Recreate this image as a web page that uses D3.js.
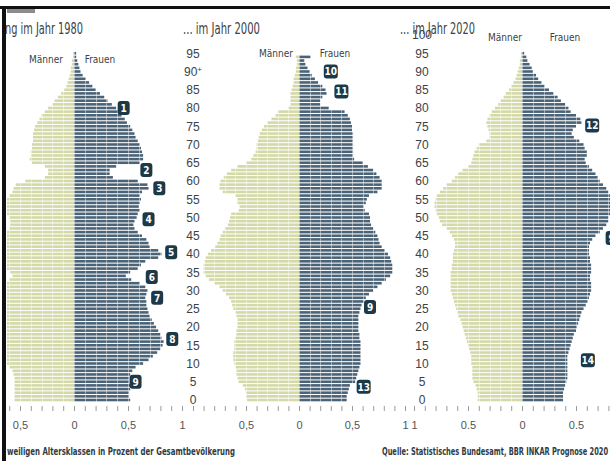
<!DOCTYPE html>
<html>
<head>
<meta charset="utf-8">
<script src="https://cdnjs.cloudflare.com/ajax/libs/d3/7.8.5/d3.min.js"></script>
<style>
  body { margin: 0; background: #fff; }
  svg { display: block; font-family: "Liberation Sans Narrow", "DejaVu Sans Condensed", "Roboto", sans-serif; }
</style>
</head>
<body>
<div id="chart"></div>
<script>
// share of each single-year age class in % of the total population, ages 0..95
var men1980 = [
  0.55,0.55,0.55,0.55,0.55,0.55,0.55,0.56,0.57,0.60,
  0.67,0.72,0.76,0.80,0.83,0.86,0.87,0.85,0.84,0.82,
  0.80,0.78,0.76,0.74,0.73,0.72,0.71,0.70,0.70,0.70,
  0.71,0.69,0.64,0.60,0.57,0.59,0.63,0.66,0.70,0.82,
  0.85,0.82,0.74,0.72,0.70,0.66,0.62,0.60,0.59,0.59,
  0.60,0.62,0.64,0.63,0.63,0.62,0.60,0.57,0.56,0.54,
  0.45,0.27,0.24,0.24,0.27,0.39,0.41,0.40,0.40,0.39,
  0.39,0.38,0.38,0.38,0.37,0.36,0.34,0.32,0.30,0.27,
  0.24,0.20,0.18,0.15,0.12,0.09,0.07,0.06,0.05,0.04,
  0.03,0.03,0.02,0.02,0.01,0.01];
var women1980 = [
  0.52,0.51,0.51,0.52,0.52,0.51,0.51,0.52,0.54,0.57,
  0.64,0.69,0.73,0.77,0.80,0.82,0.83,0.81,0.80,0.78,
  0.76,0.74,0.72,0.70,0.69,0.68,0.67,0.67,0.66,0.67,
  0.68,0.66,0.61,0.53,0.48,0.52,0.59,0.62,0.66,0.78,
  0.81,0.78,0.70,0.69,0.67,0.63,0.59,0.56,0.55,0.56,
  0.58,0.59,0.61,0.60,0.61,0.62,0.61,0.63,0.69,0.68,
  0.59,0.36,0.33,0.33,0.39,0.61,0.64,0.64,0.63,0.62,
  0.61,0.59,0.57,0.56,0.54,0.52,0.49,0.47,0.44,0.42,
  0.39,0.35,0.31,0.28,0.24,0.20,0.17,0.14,0.11,0.08,
  0.06,0.05,0.04,0.03,0.02,0.02];
var men2000 = [
  0.49,0.50,0.50,0.51,0.53,0.57,0.58,0.59,0.59,0.60,
  0.61,0.62,0.62,0.62,0.61,0.61,0.61,0.60,0.59,0.59,
  0.58,0.58,0.58,0.59,0.60,0.62,0.63,0.64,0.66,0.69,
  0.72,0.75,0.80,0.85,0.88,0.90,0.90,0.90,0.89,0.88,
  0.86,0.83,0.79,0.77,0.75,0.74,0.72,0.70,0.67,0.66,
  0.65,0.64,0.57,0.56,0.58,0.58,0.60,0.72,0.75,0.75,
  0.74,0.71,0.68,0.64,0.58,0.50,0.45,0.43,0.41,0.40,
  0.40,0.39,0.38,0.37,0.35,0.33,0.30,0.26,0.22,0.20,
  0.10,0.08,0.08,0.08,0.08,0.07,0.06,0.05,0.05,0.04,
  0.03,0.03,0.02,0.02,0.03,0.00];
var women2000 = [
  0.45,0.45,0.46,0.47,0.48,0.53,0.54,0.55,0.56,0.57,
  0.58,0.58,0.58,0.58,0.58,0.58,0.58,0.57,0.57,0.56,
  0.56,0.56,0.56,0.56,0.57,0.58,0.59,0.61,0.63,0.66,
  0.70,0.74,0.78,0.82,0.86,0.88,0.88,0.88,0.87,0.86,
  0.84,0.81,0.78,0.76,0.75,0.74,0.72,0.70,0.68,0.67,
  0.67,0.66,0.62,0.61,0.63,0.64,0.66,0.74,0.78,0.78,
  0.78,0.76,0.73,0.70,0.65,0.60,0.52,0.51,0.51,0.51,
  0.51,0.51,0.51,0.51,0.50,0.50,0.49,0.48,0.46,0.43,
  0.28,0.20,0.20,0.22,0.26,0.25,0.22,0.18,0.15,0.12,
  0.10,0.08,0.06,0.05,0.11,0.00];
var men2020 = [
  0.41,0.41,0.41,0.42,0.43,0.45,0.46,0.46,0.46,0.46,
  0.47,0.47,0.47,0.48,0.49,0.50,0.51,0.52,0.53,0.54,
  0.55,0.56,0.57,0.59,0.60,0.61,0.62,0.63,0.64,0.65,
  0.66,0.66,0.66,0.66,0.66,0.66,0.65,0.65,0.64,0.64,
  0.64,0.63,0.62,0.62,0.63,0.65,0.67,0.70,0.74,0.76,
  0.77,0.79,0.80,0.81,0.81,0.80,0.79,0.76,0.73,0.70,
  0.65,0.62,0.59,0.55,0.50,0.47,0.46,0.45,0.44,0.42,
  0.40,0.33,0.30,0.30,0.31,0.32,0.33,0.32,0.30,0.28,
  0.25,0.22,0.20,0.17,0.15,0.12,0.10,0.08,0.06,0.05,
  0.04,0.03,0.02,0.02,0.01,0.01];
var women2020 = [
  0.38,0.38,0.38,0.39,0.40,0.41,0.42,0.42,0.42,0.42,
  0.42,0.42,0.42,0.43,0.44,0.45,0.46,0.47,0.48,0.50,
  0.51,0.52,0.53,0.54,0.55,0.57,0.59,0.61,0.62,0.63,
  0.64,0.64,0.64,0.63,0.63,0.64,0.64,0.64,0.63,0.63,
  0.62,0.62,0.62,0.63,0.65,0.68,0.72,0.75,0.78,0.80,
  0.80,0.82,0.83,0.84,0.84,0.84,0.82,0.80,0.78,0.75,
  0.72,0.70,0.68,0.65,0.62,0.59,0.58,0.60,0.60,0.58,
  0.57,0.53,0.48,0.46,0.47,0.50,0.55,0.54,0.50,0.45,
  0.43,0.40,0.36,0.33,0.29,0.25,0.21,0.18,0.15,0.13,
  0.10,0.09,0.07,0.05,0.04,0.02];

var titles = ["ng im Jahr 1980", "... im Jahr 2000", "... im Jahr 2020"];
var ageTicks1 = d3.range(0, 100, 5);
var ageTicks2 = d3.range(0, 105, 5);
var valueLabels = [[-0.5, 0, 0.5, 1], [-0.5, 0, 0.5, 1], [-1, -0.5, 0, 0.5]];
var valueText = [["0,5", "0", "0,5", "1"], ["0,5", "0", "0,5", "1"], ["1", "0.5", "0", "0.5"]];
// numbered markers: [label, age, value]
var notes1980 = [["1", 80, 0.46], ["2", 63, 0.67], ["3", 58, 0.79], ["4", 49.5, 0.69], ["5", 40.5, 0.9],
                 ["6", 33.7, 0.72], ["7", 28, 0.77], ["8", 16.7, 0.91], ["9", 5, 0.57]];
var notes2000 = [["10", 90, 0.3], ["11", 84.5, 0.4], ["9", 25.5, 0.67], ["13", 3.6, 0.61]];
var notes2020 = [["12", 75.2, 0.65], ["9", 44.4, 0.83], ["14", 10.9, 0.61]];

var manColor = "#d4d9a8", womanColor = "#4b6377", noteColor = "#1d3846", textColor = "#3b4247";

var width = 610, height = 461;
var svg = d3.select("#chart").append("svg")
  .attr("width", width)
  .attr("height", height);

// age scale shared by all three pyramids
var y = d3.scaleLinear().domain([0, 100]).range([400, 35]);
var barH = 2.6;

var panels = [
  {men: men1980, women: women1980, notes: notes1980, center: 74, unit: 108, clip: [7, 190], ticks: [-0.6, 1.0],
   title: [5, 34, 78], labels: [46, 100, 63]},
  {men: men2000, women: women2000, notes: notes2000, center: 299, unit: 106, clip: [190, 410], ticks: [-1.0, 1.0],
   title: [183, 34, 77], labels: [276, 335, 57]},
  {men: men2020, women: women2020, notes: notes2020, center: 522, unit: 108, clip: [410, 610], ticks: [-1.0, 0.8],
   title: [400, 34, 75], labels: [505, 565, 41]}
];

var defs = svg.append("defs");

panels.forEach(function(p, i) {
  var x = d3.scaleLinear().domain([-1, 1]).range([p.center - p.unit, p.center + p.unit]);

  defs.append("clipPath").attr("id", "clip" + i)
    .append("rect")
    .attr("x", p.clip[0]).attr("y", 0)
    .attr("width", p.clip[1] - p.clip[0]).attr("height", height);

  var g = svg.append("g").attr("clip-path", "url(#clip" + i + ")");

  g.selectAll("rect.man")
    .data(p.men)
    .enter().append("rect")
    .attr("class", "man")
    .attr("x", function(d) { return x(-d); })
    .attr("y", function(d, a) { return y(a) - barH / 2; })
    .attr("width", function(d) { return x(0) - x(-d); })
    .attr("height", barH)
    .attr("fill", manColor);

  g.selectAll("rect.woman")
    .data(p.women)
    .enter().append("rect")
    .attr("class", "woman")
    .attr("x", x(0))
    .attr("y", function(d, a) { return y(a) - barH / 2; })
    .attr("width", function(d) { return x(d) - x(0); })
    .attr("height", barH)
    .attr("fill", womanColor);

  // faint white grid every 0.1 across the bars
  g.selectAll("line.grid")
    .data(d3.range(-10, 11).map(function(k) { return k / 10; }))
    .enter().append("line")
    .attr("x1", function(d) { return Math.round(x(d)) + 0.5; })
    .attr("x2", function(d) { return Math.round(x(d)) + 0.5; })
    .attr("y1", y(96)).attr("y2", y(0) + 3)
    .attr("stroke", "#fff")
    .attr("stroke-opacity", 0.45);

  // small ticks under each pyramid
  var tickVals = d3.range(Math.round(p.ticks[0] * 10), Math.round(p.ticks[1] * 10) + 1).map(function(k) { return k / 10; });
  var ax = svg.append("g")
    .attr("transform", "translate(0,406)")
    .call(d3.axisBottom(x).tickValues(tickVals).tickSize(5).tickFormat(""));
  ax.select(".domain").remove();
  ax.selectAll("line").attr("stroke", "#9a9a9a");

  var lab = svg.append("g")
    .attr("transform", "translate(0,418)")
    .call(d3.axisBottom(x).tickValues(valueLabels[i]).tickSize(0)
      .tickFormat(function(d, k) { return valueText[i][k]; }));
  lab.select(".domain").remove();
  lab.selectAll("text")
    .attr("font-size", 11)
    .attr("font-family", null)
    .attr("fill", "#555");

  // Männer / Frauen headings
  svg.append("text")
    .attr("x", p.labels[0]).attr("y", p.labels[2])
    .attr("text-anchor", "middle")
    .attr("font-size", 10)
    .attr("fill", textColor)
    .text("Männer");
  svg.append("text")
    .attr("x", p.labels[1]).attr("y", p.labels[2])
    .attr("text-anchor", "middle")
    .attr("font-size", 10)
    .attr("fill", textColor)
    .text("Frauen");

  // numbered markers
  var n = svg.selectAll("g.note" + i)
    .data(p.notes)
    .enter().append("g")
    .attr("class", "note" + i)
    .attr("transform", function(d) { return "translate(" + x(d[2]) + "," + y(d[1]) + ")"; });
  n.append("rect")
    .attr("x", function(d) { return d[0].length > 1 ? -7 : -6; })
    .attr("y", -7)
    .attr("width", function(d) { return d[0].length > 1 ? 14 : 12; })
    .attr("height", 14)
    .attr("rx", 3)
    .attr("fill", noteColor);
  n.append("text")
    .attr("text-anchor", "middle")
    .attr("dy", 3.8)
    .attr("font-size", 10)
    .attr("font-weight", "bold")
    .attr("fill", "#fff")
    .text(function(d) { return d[0]; });
});

// age labels between the pyramids
var ages1 = svg.append("g")
  .attr("transform", "translate(193,0)")
  .call(d3.axisRight(y).tickValues(ageTicks1).tickSize(0).tickPadding(0));
ages1.select(".domain").remove();
ages1.selectAll("text")
  .attr("text-anchor", "middle")
  .attr("font-size", 12)
  .attr("font-family", null)
  .attr("fill", textColor);
ages1.selectAll(".tick").filter(function(d) { return d === 90; }).select("text")
  .append("tspan").attr("dy", -4).attr("font-size", 8).text("+");

var ages2 = svg.append("g")
  .attr("transform", "translate(422,0)")
  .call(d3.axisRight(y).tickValues(ageTicks2).tickSize(0).tickPadding(0));
ages2.select(".domain").remove();
ages2.selectAll("text")
  .attr("text-anchor", "middle")
  .attr("font-size", 12)
  .attr("font-family", null)
  .attr("fill", textColor);

// panel titles, squeezed to the narrow face of the original
panels.forEach(function(p, i) {
  svg.append("text")
    .attr("x", p.title[0]).attr("y", p.title[1])
    .attr("font-size", 15)
    .attr("textLength", p.title[2])
    .attr("lengthAdjust", "spacingAndGlyphs")
    .attr("fill", textColor)
    .text(titles[i]);
});

// frame bits from the page layout
svg.append("rect").attr("x", 0).attr("y", 6).attr("width", width).attr("height", 3).attr("fill", "#111");
svg.append("rect").attr("x", 2).attr("y", 6).attr("width", 4).attr("height", height - 6).attr("fill", "#111");
svg.append("rect").attr("x", 7).attr("y", 9).attr("width", 28).attr("height", 4).attr("fill", "#8c8c8c");

// footer
svg.append("text")
  .attr("x", 7).attr("y", 455)
  .attr("font-size", 11)
  .attr("font-weight", "bold")
  .attr("textLength", 228)
  .attr("lengthAdjust", "spacingAndGlyphs")
  .attr("fill", "#2f3b44")
  .text("weiligen Altersklassen in Prozent der Gesamtbevölkerung");
svg.append("text")
  .attr("x", 382).attr("y", 455)
  .attr("font-size", 11)
  .attr("font-weight", "bold")
  .attr("textLength", 226)
  .attr("lengthAdjust", "spacingAndGlyphs")
  .attr("fill", "#2f3b44")
  .text("Quelle: Statistisches Bundesamt, BBR INKAR Prognose 2020");
</script>
</body>
</html>
